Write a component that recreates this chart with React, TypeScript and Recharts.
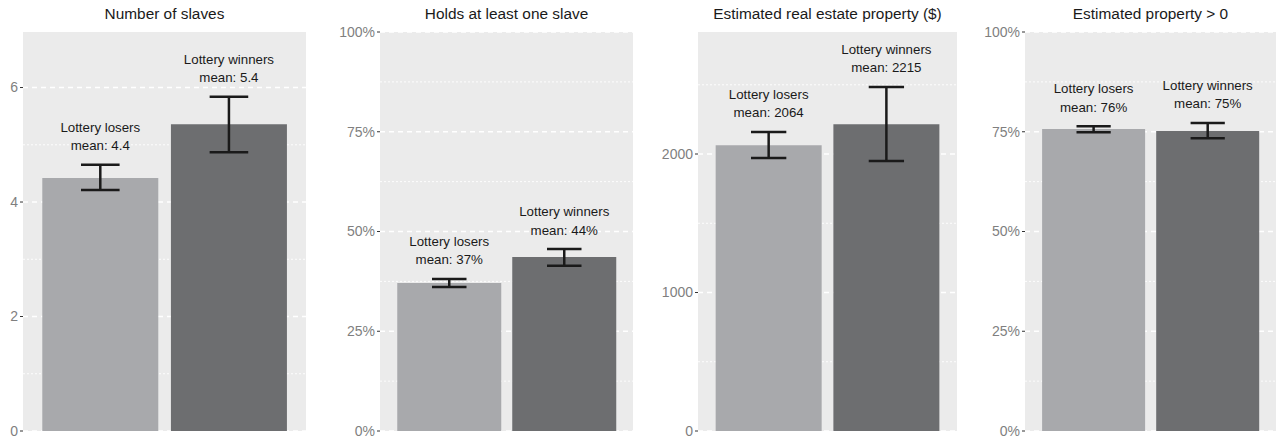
import { Bar, BarChart, CartesianGrid, Cell, ErrorBar, LabelList, XAxis, YAxis } from "recharts"

const groups = ["Lottery losers", "Lottery winners"]
const barColors = ["#a8a9ac", "#6d6e70"]

// number of slaves
const slavesMean = [4.42, 5.36]
const slavesLow = [4.21, 4.87]
const slavesHigh = [4.65, 5.84]

// holds at least one slave
const holdsMean = [0.371, 0.436]
const holdsLow = [0.361, 0.414]
const holdsHigh = [0.381, 0.456]

// estimated real estate property
const estateMean = [2064, 2215]
const estateLow = [1971, 1949]
const estateHigh = [2159, 2484]

// estimated property > 0
const positiveMean = [0.757, 0.752]
const positiveLow = [0.749, 0.734]
const positiveHigh = [0.764, 0.772]

const countTicks = [0, 2, 4, 6]
const countMinor = [1, 3, 5]
const shareTicks = [0, 0.25, 0.5, 0.75, 1]
const shareMinor = [0.125, 0.375, 0.625, 0.875]
const estateTicks = [0, 1000, 2000]
const estateMinor = [500, 1500, 2500]

const FONT = "'Liberation Sans', Arial, Helvetica, sans-serif"
const H = 440
const TOP = 32
const BOTTOM = 9

const pct = (v: number) => `${Math.round(v * 100)}%`
const num = (v: number) => `${v}`

type PanelProps = {
  title: string
  left: number
  axisW: number
  plotW: number
  mean: number[]
  low: number[]
  high: number[]
  domain: [number, number]
  ticks: number[]
  minor: number[]
  tickFmt: (v: number) => string
  meanFmt: (v: number) => string
}

const Panel = ({ title, left, axisW, plotW, mean, low, high, domain, ticks, minor, tickFmt, meanFmt }: PanelProps) => {
  const rows = groups.map((g, i) => ({
    group: g,
    mean: mean[i],
    err: [mean[i] - low[i], high[i] - mean[i]],
  }))
  const unit = plotW / 2.2
  const pad = unit * 0.1
  const cap = unit * 0.15

  const renderLabel = (props: any) => {
    const { x, y, width, height, index } = props
    const v = mean[index]
    const base = y + height
    const topY = base - high[index] * (height / v)
    const cx = x + width / 2
    return (
      <g>
        <text x={cx} y={topY - 33} textAnchor="middle" fontSize={13.3} fill="#1a1a1a" fontFamily={FONT}>
          {groups[index]}
        </text>
        <text x={cx} y={topY - 14.5} textAnchor="middle" fontSize={13.3} fill="#1a1a1a" fontFamily={FONT}>
          {`mean: ${meanFmt(v)}`}
        </text>
      </g>
    )
  }

  return (
    <div style={{ position: "absolute", left, top: 0, width: axisW + plotW, height: H }}>
      <div
        style={{
          position: "absolute",
          left: axisW,
          width: plotW,
          top: 5,
          textAlign: "center",
          fontFamily: FONT,
          fontSize: 15.4,
          color: "#1a1a1a",
          whiteSpace: "nowrap",
        }}
      >
        {title}
      </div>
      <BarChart
        width={axisW + plotW}
        height={H}
        data={rows}
        margin={{ top: TOP, bottom: BOTTOM, left: 0, right: 0 }}
        barCategoryGap="5%"
      >
        <CartesianGrid
          vertical={false}
          horizontalValues={minor}
          fill="#ebebeb"
          stroke="#ffffff"
          strokeWidth={0.9}
          strokeDasharray="2 2"
        />
        <CartesianGrid vertical={false} horizontalValues={ticks} stroke="#ffffff" strokeWidth={1.4} strokeDasharray="5 4" />
        <XAxis dataKey="group" hide padding={{ left: pad, right: pad }} />
        <YAxis
          width={axisW}
          domain={domain}
          ticks={ticks}
          tickFormatter={tickFmt}
          axisLine={false}
          tickSize={3}
          tickMargin={2}
          tickLine={{ stroke: "#333333" }}
          tick={{ fill: "#7f7f7f", fontSize: 14, fontFamily: FONT }}
          allowDataOverflow
        />
        <Bar dataKey="mean" isAnimationActive={false}>
          {rows.map((r, i) => (
            <Cell key={r.group} fill={barColors[i]} />
          ))}
          <ErrorBar dataKey="err" width={cap} stroke="#1a1a1a" strokeWidth={2.5} direction="y" />
          <LabelList dataKey="mean" content={renderLabel} />
        </Bar>
      </BarChart>
    </div>
  )
}

export default function App() {
  return (
    <div style={{ position: "absolute", left: 0, top: 0, width: 1276, height: H, background: "#ffffff" }}>
      <Panel
        title="Number of slaves"
        left={0}
        axisW={23}
        plotW={283}
        mean={slavesMean}
        low={slavesLow}
        high={slavesHigh}
        domain={[0, 6.97]}
        ticks={countTicks}
        minor={countMinor}
        tickFmt={num}
        meanFmt={(v) => v.toFixed(1)}
      />
      <Panel
        title="Holds at least one slave"
        left={330}
        axisW={50}
        plotW={253}
        mean={holdsMean}
        low={holdsLow}
        high={holdsHigh}
        domain={[0, 1]}
        ticks={shareTicks}
        minor={shareMinor}
        tickFmt={pct}
        meanFmt={pct}
      />
      <Panel
        title="Estimated real estate property ($)"
        left={648}
        axisW={50}
        plotW={259}
        mean={estateMean}
        low={estateLow}
        high={estateHigh}
        domain={[0, 2881]}
        ticks={estateTicks}
        minor={estateMinor}
        tickFmt={num}
        meanFmt={(v) => `${Math.round(v)}`}
      />
      <Panel
        title="Estimated property > 0"
        left={975}
        axisW={50}
        plotW={251}
        mean={positiveMean}
        low={positiveLow}
        high={positiveHigh}
        domain={[0, 1]}
        ticks={shareTicks}
        minor={shareMinor}
        tickFmt={pct}
        meanFmt={pct}
      />
    </div>
  )
}
